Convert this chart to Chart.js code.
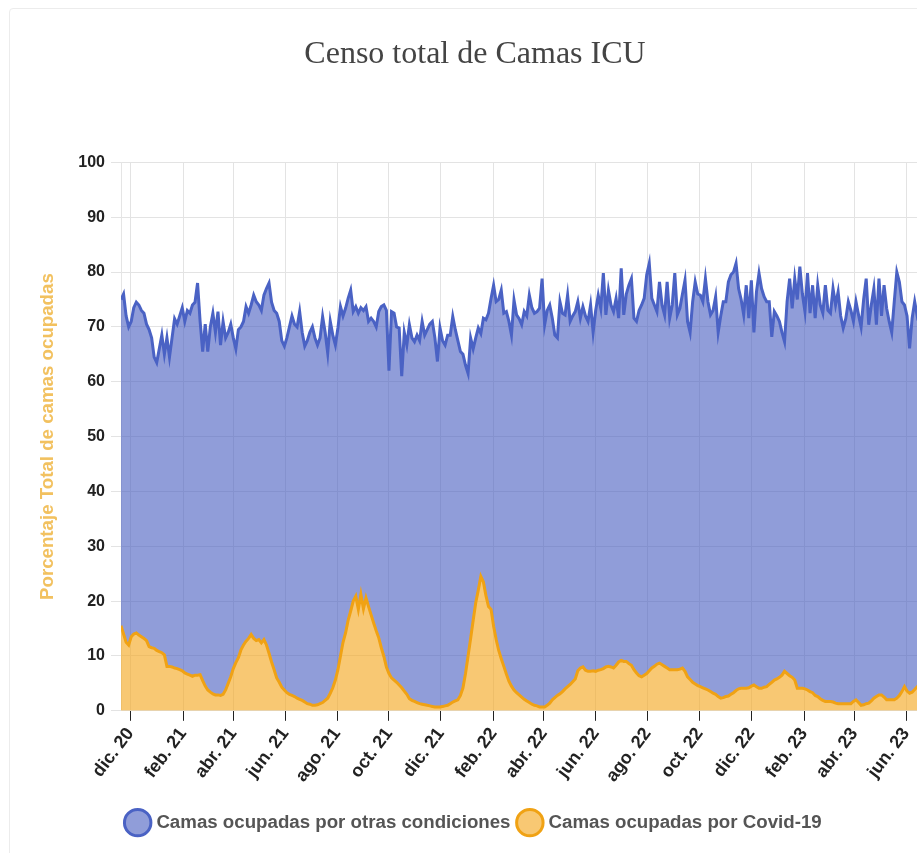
<!DOCTYPE html>
<html>
<head>
<meta charset="utf-8">
<script src="https://cdn.jsdelivr.net/npm/chart.js@4/dist/chart.umd.min.js"></script>
<style>
html,body{margin:0;padding:0;background:#fff;overflow:hidden;width:917px;height:853px;}
#card{position:absolute;left:9px;top:8px;width:960px;height:880px;border:1px solid #ececec;border-radius:4px;background:#fff;}
#wrap{position:absolute;left:0;top:0;width:930px;height:844px;}
</style>
</head>
<body>
<div id="card"><div id="wrap"><canvas id="c"></canvas></div></div>
<script>
// Serie diaria muestreada cada 3 días, desde el 20 nov. 2020
const fechaInicio = '2020-11-20';
const pasoDias = 3;

// Posición (días desde fechaInicio) y texto de las marcas del eje X
const tickDias = [11, 73, 132, 193, 254, 315, 376, 438, 497, 558, 619, 680, 741, 803, 862, 923];
const tickEtiquetas = ['dic. 20','feb. 21','abr. 21','jun. 21','ago. 21','oct. 21','dic. 21','feb. 22','abr. 22','jun. 22','ago. 22','oct. 22','dic. 22','feb. 23','abr. 23','jun. 23'];

// Porcentaje total de camas ocupadas (otras condiciones + Covid-19)
const totalOcupadas = [
75,76,72,70,71,73.5,74.5,74,73,72.5,
70.5,69.5,68,64.5,63.5,66,68.5,65,68,64.5,
68,71.5,70.5,72,73.5,71,73,72.5,74,74.5,
78,71,65.5,70.5,65.5,70,72.5,69,72.8,66.7,
71,68,69,70.5,68,66,69.5,70,71,73.7,
72.5,74,75.8,74.6,74,73,75.8,77,78,74.5,
73,72.5,71,67.5,66.5,68,70,72,70.5,70,
72.8,69,66.5,67.5,69,70,68,66.7,68,71.9,
69,65.2,71,68.5,66.7,69.8,73.7,72,73.4,75.2,
76.7,72.8,73.7,72.5,73.5,73,73.7,71,71.6,71,
70,72.8,73.7,74,73,62,72.8,72.5,70,69.8,
61,69,66.7,70.4,68,67.3,68.5,67.5,71,68.5,
69.5,70.5,71,68,63.7,69.8,67.5,66.7,68.5,68.5,
71.9,69.5,67.5,65.5,65,63,61.5,68,66,68,
69.8,68.8,71.6,71.3,72.5,75.2,77.6,74.6,75,76.7,
72.5,72.8,71,68.5,74.9,72.2,71.5,70.4,72.8,72,
75.8,73.5,72.5,72.8,73.4,78.8,70.4,73,74,71.6,
68.5,68,74.6,72.5,72.2,75.8,71,72,72.8,74.6,
71.6,73.7,72,71,74,69,73,75.8,73.4,79.8,
72.2,76.7,74,72.8,75.2,71.6,80.7,72.2,76,77.6,
78.8,71.6,71,73,74,75.2,79.5,81.6,75.2,74,
72.8,78.2,74,72.2,78.2,71.6,74,79.8,72.2,73.4,
76,78.5,71,69,74.6,78.2,76,75.8,74.6,78.8,
74.6,72.2,73,75.5,69,72,74.6,74.6,78.2,79.5,
80,81.6,77,75,72.2,77.6,71.6,78.5,69,76.4,
79.8,77,75.5,74.6,74.6,68.2,72.8,72,71,69,
67.3,74.6,78.8,73.4,78.8,75,81,76,72.8,79.8,
72.5,77.6,71.6,77.6,74,72.5,77.6,73,72.5,77,
74,76.4,72,69.8,71.5,74.6,73,71,74.6,72.2,
70,75,78.8,70.4,74,77,70.4,78.8,72,77.6,
73.4,71,69,74.6,80,78.2,74.6,74,72,66.1,
71.6,74.6,72,73,74,72,73,74
];

// Porcentaje de camas ocupadas por Covid-19
const covid19 = [
15.5,14,12.5,12,13.5,14,14.2,13.8,13.5,13.2,
12.8,11.7,11.5,11.4,11,10.8,10.6,10.2,8.1,8.1,
8,7.8,7.7,7.5,7.3,6.9,6.7,6.5,6.3,6.5,
6.5,6.6,5.5,4.5,3.8,3.4,3.1,2.9,2.9,2.8,
3,3.8,5,6.2,7.7,8.8,9.7,11.1,12,12.7,
13.2,13.9,13.2,12.8,13,12.4,13,12,10.5,8.9,
7.5,6,5.2,4.3,3.8,3.3,3,2.8,2.6,2.3,
2.1,1.9,1.6,1.3,1.2,1,1,1.1,1.3,1.5,
1.9,2.3,3.2,4.2,5.6,7.5,10,12.5,14.2,16.5,
18.2,20,20.9,18.5,21.2,18.6,20.6,19,17.5,16,
14.6,13.3,11.5,9.9,8,6.8,6,5.6,5.2,4.7,
4.2,3.6,3,2.2,1.9,1.7,1.5,1.3,1.2,1.1,
1,0.9,0.8,0.7,0.7,0.7,0.8,0.9,1,1.3,
1.6,1.8,2,2.8,4.2,6.8,10,13.2,16.5,19.7,
22,24.5,23.5,21,19,18.5,15.4,13,11,9.5,
8.1,6.7,5.4,4.5,3.8,3.3,2.9,2.5,2.1,1.8,
1.5,1.2,1,0.9,0.7,0.7,0.7,1,1.4,2,
2.4,2.8,3.1,3.5,4,4.4,4.8,5.3,5.8,7.3,
7.8,8,7.4,7.2,7.2,7.3,7.2,7.4,7.5,7.7,
8,8.1,8,7.8,8.3,8.9,9.2,9,9,8.6,
8.3,7.5,6.9,6.4,6.2,6.5,6.8,7.3,7.8,8.1,
8.5,8.7,8.4,8.1,7.8,7.5,7.5,7.5,7.5,7.6,
7.8,7.2,6.2,5.7,5.2,4.9,4.6,4.4,4.2,4,
3.8,3.5,3.2,3,2.6,2.3,2.4,2.6,2.7,3,
3.3,3.7,4,4.1,4.1,4.1,4.2,4.5,4.7,4.4,
4.1,4.1,4.3,4.4,4.8,5.2,5.6,5.8,6.1,6.5,
7.2,6.8,6.4,6.1,5.6,4.1,4.1,4.1,4,3.8,
3.5,3.3,2.8,2.6,2.2,1.9,1.7,1.7,1.7,1.6,
1.4,1.3,1.3,1.3,1.3,1.3,1.3,1.7,2,1.5,
1,1.1,1.3,1.4,1.8,2.3,2.6,2.9,2.9,2.5,
2,2,2,2,2.3,2.8,3.5,4.4,3.6,3.2,
3.4,3.9,4.4,4.2,4,4.1,4.3,4.2
];

const aPuntos = arr => arr.map((v, i) => ({ x: i * pasoDias, y: v }));
const ultimoDia = (totalOcupadas.length - 1) * pasoDias;

new Chart(document.getElementById('c'), {
  type: 'line',
  data: {
    datasets: [
      {
        label: 'Camas ocupadas por otras condiciones',
        data: aPuntos(totalOcupadas),
        borderColor: '#4a62c4',
        backgroundColor: 'rgba(70,92,192,0.6)',
        borderWidth: 3,
        pointRadius: 0,
        pointStyle: 'circle',
        fill: 1,
        order: 1,
        tension: 0
      },
      {
        label: 'Camas ocupadas por Covid-19',
        data: aPuntos(covid19),
        borderColor: '#f0a214',
        backgroundColor: 'rgba(245,170,40,0.65)',
        borderWidth: 3,
        pointRadius: 0,
        pointStyle: 'circle',
        fill: 'origin',
        order: 0,
        tension: 0
      }
    ]
  },
  options: {
    responsive: true,
    maintainAspectRatio: false,
    animation: false,
    layout: { padding: { left: 10, right: 10, top: 0, bottom: 11 } },
    plugins: {
      title: {
        display: true,
        text: 'Censo total de Camas ICU',
        color: '#444',
        font: { family: 'Liberation Serif', size: 32, weight: 'normal' },
        padding: { top: 26, bottom: 89 }
      },
      legend: {
        position: 'bottom',
        labels: {
          usePointStyle: true,
          color: '#555',
          font: { family: 'Liberation Sans', size: 18.7, weight: 'bold' },
          padding: 10,
          sort: (a, b) => a.datasetIndex - b.datasetIndex
        }
      },
      tooltip: { enabled: false }
    },
    scales: {
      x: {
        type: 'linear',
        min: 0,
        max: ultimoDia,
        afterBuildTicks: s => { s.ticks = tickDias.map(v => ({ value: v })); },
        afterFit: s => { s.height = 92.5; },
        ticks: {
          autoSkip: false,
          minRotation: 53,
          maxRotation: 53,
          color: '#222',
          font: { family: 'Liberation Sans', size: 18, weight: 'bold' },
          callback: v => { const k = tickDias.indexOf(v); return k >= 0 ? tickEtiquetas[k] : ''; }
        },
        grid: { color: '#e3e3e3', tickColor: '#222', tickLength: 10 },
        border: { display: false }
      },
      y: {
        min: 0,
        max: 100,
        afterFit: s => { s.width = 101; },
        ticks: { stepSize: 10, color: '#222', font: { family: 'Liberation Sans', size: 16, weight: 'bold' }, padding: 6 },
        grid: { color: '#e3e3e3', tickLength: 10 },
        title: {
          display: true,
          text: 'Porcentaje Total de camas ocupadas',
          color: '#f2c15f',
          font: { family: 'Liberation Sans', size: 18.7, weight: 'bold' },
          padding: { top: 17, bottom: 4 }
        }
      }
    }
  }
});
</script>
</body>
</html>
